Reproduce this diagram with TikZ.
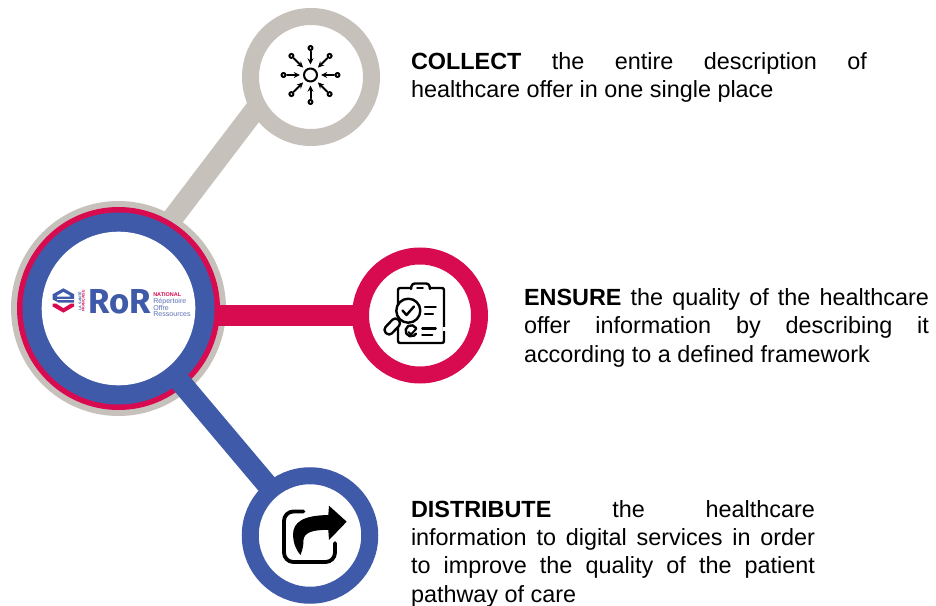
\documentclass[tikz,border=0pt]{standalone}
\usepackage{fontspec}
\setmainfont{Liberation Sans}
\newfontfamily\logofont{Fira Sans}
\usetikzlibrary{backgrounds,arrows.meta}
\definecolor{rgray}{HTML}{C7C1BC}
\definecolor{rred}{HTML}{D80B50}
\definecolor{rblue}{HTML}{3F5AA8}
\hbadness=10000
\hfuzz=20pt
\newcommand{\jl}[1]{\hbox to\hsize{#1}}
\newcommand{\bodyblock}[2]{\vtop{\hsize=#1\fontsize{17.55}{21.25}\selectfont\parindent=0pt #2}}
\tikzset{
  x=0.75pt,y=-0.75pt,
  ring/.style n args={3}{circle,draw=#1,fill=white,line width=#3*0.75pt,minimum size=#2*0.75pt,inner sep=0pt,outer sep=0pt},
  disc/.style n args={2}{circle,fill=#1,minimum size=#2*0.75pt,inner sep=0pt,outer sep=0pt},
  conn/.style n args={1}{draw=#1,line width=21*0.75pt},
  body/.style={anchor=base west,inner sep=0pt,outer sep=0pt},
  icon/.style={draw=black,line width=2*0.75pt,line cap=round,line join=round},
  spoke/.style={icon,-{Stealth[length=4.6pt,width=4.4pt]}}
}
\begin{document}
\begin{tikzpicture}
\useasboundingbox (0,0) rectangle (936,606);
% outer rings
\node[ring={rgray}{121}{17}] (top) at (311,77) {};
\node[ring={rred}{119}{17}] (mid) at (420,315.5) {};
\node[ring={rblue}{119.5}{17}] (bot) at (310,535.5) {};
\node[disc={white}{153.6}] (chub) at (118.5,308.5) {};
\coordinate (gA) at (104,308.5);
\coordinate (gB) at (280,77);
\begin{pgfonlayer}{background}
\fill[white] (0,0) rectangle (936,606);
\draw[conn={rgray}] (gA) -- (gB);
\node[disc={rgray}{215}] (cgray) at (chub.center) {};
\draw[conn={rred}] (chub.center |- mid.center) -- (mid.center);
\node[disc={rred}{203}] (cred) at (chub.center) {};
\draw[conn={rblue}] (chub.center) -- (bot.center);
\node[disc={rblue}{192}] (cblue) at (chub.center) {};
\end{pgfonlayer}
% collect icon
\coordinate (ic) at (310.5,75);
\draw[icon] (ic) circle (6.5);
\foreach \a in {0,45,...,315}{
  \draw[icon,fill=white] (ic) ++(\a:27) circle (2);
  \draw[spoke] (ic) ++(\a:23.5) -- ++(\a:-13);
}
% ensure icon
\draw[icon,line width=2.4*0.75pt,rounded corners=1.5] (411,288) -- (398,288) -- (398,343) -- (444,343) -- (444,288) -- (430,288);
\draw[icon,line width=2.4*0.75pt,rounded corners=2] (411,289) -- (412,283.5) -- (429,283.5) -- (430,289);
\draw[icon,line width=1.5*0.75pt] (417,288) -- (423,288);
\draw[line width=3*0.75pt,white] (444,327) -- (444,331);
\draw[icon,line width=2.4*0.75pt,fill=white,rounded corners=3] (395.3,316.8) -- (401.7,323.2) -- (389.2,336.2) -- (382.8,329.8) -- cycle;
\draw[icon,line width=2.4*0.75pt,fill=white] (408.3,310.7) circle (12);
\draw[icon,line width=2.4*0.75pt] (402.5,310.5) -- (406.5,315) -- (414,306.5);
\draw[icon,line width=2.4*0.75pt] (425,306.7) -- (435.7,306.7);
\draw[icon,line width=2.4*0.75pt] (425,314) -- (433,314);
\draw[icon,line width=2.4*0.75pt] (422.3,328.3) -- (435.7,328.3);
\draw[icon,line width=2.4*0.75pt] (422.3,335) -- (432.3,335);
\draw[icon,line width=2.4*0.75pt] (416,328) arc (-30:-330:5.6);
\draw[icon,line width=2*0.75pt] (408.5,332) -- (411,334.5) -- (416.5,328.5);
% distribute icon
\draw[icon,line width=3.8*0.75pt,rounded corners=7] (303.5,511.5) -- (284,511.5) -- (284,562) -- (335,562) -- (335,543);
\fill[black] (346.7,521.7) -- (329,505.7) -- (328.3,515) .. controls (303,515.5) and (293,522) .. (293,535) .. controls (293.5,545) and (297,551) .. (300.5,555) .. controls (303,549) and (303.5,544) .. (303.5,540) .. controls (304,533) and (312,529.5) .. (328.3,530) -- (329,540) -- cycle;
% logo
\fill[rblue] (63.4,288.3) -- (74,294.2) -- (74,302.7) -- (59,302.7) -- (52.7,299.5) -- (52.7,294.2) -- cycle;
\fill[white] (63.4,292) -- (70,295.7) -- (70,296.5) -- (57,296.5) -- (57,295.7) -- cycle;
\fill[white] (57,299.2) -- (74.2,299.2) -- (74.2,300.4) -- (57,300.4) -- cycle;
\fill[rred] (52.7,303.5) -- (56,303.5) -- (63.4,308.2) -- (71,303.5) -- (74,303.5) -- (74,306.5) -- (63.4,312.7) -- (52.7,306.5) -- cycle;
\node[rotate=90,inner sep=0pt,font=\fontsize{2.8}{3}\selectfont\bfseries,text=rblue] (lsa) at (79.7,301) {LA SANTÉ};
\node[rotate=90,inner sep=0pt,font=\fontsize{2.8}{3}\selectfont\bfseries,text=rred] (lsb) at (83.7,301) {FRANÇAISE};
\node[inner sep=0pt,outer sep=0pt,anchor=base west,text=rblue,font=\logofont\bfseries\fontsize{26}{26}\selectfont] (ror) at (88.5,313.7) {RoR};
\node[body] (natl) at (153.3,292.6) {\vtop{\hsize=40pt\fontsize{5.3}{5.1}\selectfont\color{rblue!85!white}\hbox{\fontsize{4.1}{5.1}\selectfont\bfseries\color{rred}NATIONAL}\hbox{Répertoire}\hbox{Offre}\hbox{Ressources}}};
% text
\node[body] (t1) at (411,69.4) {\bodyblock{342pt}{\jl{\textbf{COLLECT} the entire description of}\hbox{healthcare offer in one single place}}};
\node[body] (t2) at (524,305.4) {\bodyblock{303.75pt}{\jl{\textbf{ENSURE} the quality of the healthcare}\jl{offer information by describing it}\hbox{according to a defined framework}}};
\node[body] (t3) at (411,517) {\bodyblock{303pt}{\jl{\textbf{DISTRIBUTE} the healthcare}\jl{information to digital services in order}\jl{to improve the quality of the patient}\hbox{pathway of care}}};
\end{tikzpicture}
\end{document}
